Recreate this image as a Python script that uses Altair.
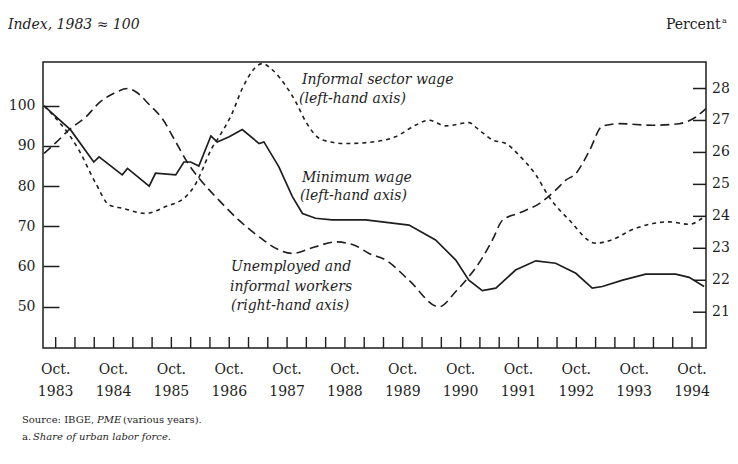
import altair as alt
import pandas as pd

# x = months since October 1983
min_wage_month = [-2.4, -0.7, 3.1, 7.9, 9.0, 13.8, 14.9, 19.4, 20.7, 24.9, 26.6, 28.0, 29.7,
                  32.2, 33.5, 36.0, 38.7, 42.2, 43.2, 46.3, 49.1, 51.2, 53.9, 57.3, 64.3,
                  73.3, 78.8, 83.0, 85.7, 88.5, 91.3, 95.4, 99.6, 103.7, 107.9, 111.3, 113.4,
                  117.6, 122.4, 128.6, 131.4, 134.5]
min_wage_index = [100, 98.1, 94, 86, 87.3, 82.8, 84.4, 80, 83.2, 82.8, 86, 86, 85,
                  92.5, 91, 92.3, 94.1, 90.6, 91, 84.8, 77.4, 73.2, 72, 71.6, 71.6,
                  70.3, 66.6, 61.6, 56.6, 54, 54.6, 59.1, 61.4, 60.8, 58.3, 54.6, 55,
                  56.6, 58.1, 58.1, 57.3, 55]

inf_wage_month = [-2.4, 4.8, 8.3, 11.1, 13.8, 18.7, 22.8, 27.0, 29.1, 30.4, 32.2, 33.9, 36.6,
                  38.7, 42.9, 44.9, 47.7, 49.8, 51.9, 55.3, 60.2, 65.0, 70.5, 74.7, 77.4,
                  80.9, 85.7, 87.8, 90.6, 93.4, 96.1, 99.6, 102.3, 106.5, 112.0, 114.8,
                  120.3, 127.2, 131.4, 134.1]
inf_wage_index = [100, 89, 80.7, 75.3, 74.5, 73.2, 74.9, 77.4, 80.7, 84, 89, 92.3, 98.1,
                  104.3, 110.5, 109, 105, 101, 96, 91.5, 90.6, 90.9, 92.3, 95.2, 96.4,
                  95, 95.8, 94, 91.5, 90.6, 87.7, 82.8, 77.4, 71.6, 65.8, 66.4,
                  69.5, 71.1, 70.5, 72]

unemp_month = [-2.4, 0.0, 3.1, 6.2, 9.0, 12.1, 14.9, 16.6, 19.4, 22.1, 24.9, 27.7, 29.7,
               33.9, 38.0, 42.2, 46.3, 49.1, 53.9, 58.1, 62.2, 65.0, 68.5, 73.3, 79.5,
               83.0, 85.7, 88.5, 90.6, 92.7, 96.1, 100.3, 103.7, 105.8, 107.9, 110.7,
               113.4, 116.9, 123.8, 129.3, 132.8, 134.9]
unemp_share = [25.97, 26.3, 26.75, 27.1, 27.55, 27.85, 28.0, 27.9, 27.5, 27.06, 26.33, 25.6, 25.2,
               24.5, 23.88, 23.36, 22.95, 22.84, 23.05, 23.2, 23.08, 22.84, 22.63, 22.0, 21.17,
               21.65, 22.11, 22.7, 23.26, 23.88, 24.1, 24.4, 24.82, 25.13, 25.34, 26.05,
               26.82, 26.9, 26.85, 26.9, 27.11, 27.37]

x_ticks = list(range(0, 133, 4))
x_label_months = list(range(0, 133, 12))
x_label_years = [str(1983 + i) for i in range(12)]
left_ticks = [50, 60, 70, 80, 90, 100]
right_ticks = [21, 22, 23, 24, 25, 26, 27, 28]

FONT = "DejaVu Serif"
INK = "#1e1e1e"
W, H = 663, 286

L0, L1 = 39.7, 110.9     # left (index) axis extent
R0, R1 = 19.88, 28.83    # right (percent) axis extent
to_left = f"{L0} + (datum.v - {R0}) * {(L1 - L0) / (R1 - R0)}"

x_scale = alt.Scale(domain=[-2.63, 134.9], nice=False, zero=False)
y_scale = alt.Scale(domain=[L0, L1], nice=False, zero=False)

x_axis = alt.Axis(values=x_ticks, labels=False, ticks=False, domain=False,
                  grid=False, title=None)
left_axis = alt.Axis(
    values=left_ticks, orient="left", offset=-16, tickSize=16, domain=False,
    grid=False, title=None, labelFont=FONT, labelFontSize=14, labelPadding=8,
    labelColor=INK, tickColor=INK, tickWidth=1.5,
)

X = alt.X("m:Q", scale=x_scale, axis=x_axis)

df_min = pd.DataFrame({"m": min_wage_month, "v": min_wage_index})
df_inf = pd.DataFrame({"m": inf_wage_month, "v": inf_wage_index})
df_une = pd.DataFrame({"m": unemp_month, "v": unemp_share})
df_xt = pd.DataFrame({"m": x_ticks})
df_xl = pd.DataFrame({"m": x_label_months, "yr": x_label_years})
df_rt = pd.DataFrame({"v": right_ticks})

min_line = alt.Chart(df_min).mark_line(color=INK, strokeWidth=1.7).encode(
    x=X, y=alt.Y("v:Q", scale=y_scale, axis=left_axis),
)
inf_line = alt.Chart(df_inf).mark_line(
    color=INK, strokeWidth=1.6, strokeDash=[4, 4], interpolate="monotone"
).encode(x=X, y=alt.Y("v:Q", scale=y_scale, axis=left_axis))
une_line = alt.Chart(df_une).transform_calculate(lv=to_left).mark_line(
    color=INK, strokeWidth=1.6, strokeDash=[9, 5], interpolate="monotone"
).encode(x=X, y=alt.Y("lv:Q", scale=y_scale, axis=left_axis))

x_tick_rules = alt.Chart(df_xt).mark_rule(color=INK, strokeWidth=1.4).encode(
    x=X, y=alt.value(H - 11), y2=alt.value(H),
)
x_lab_oct = alt.Chart(df_xl).mark_text(
    font=FONT, fontSize=14, color=INK, baseline="middle", text="Oct."
).encode(x=X, y=alt.value(H + 22))
x_lab_year = alt.Chart(df_xl).mark_text(
    font=FONT, fontSize=14, color=INK, baseline="middle"
).encode(x=X, y=alt.value(H + 44), text="yr:N")

r_tick_rules = alt.Chart(df_rt).transform_calculate(lv=to_left).mark_rule(
    color=INK, strokeWidth=1.5
).encode(x=alt.value(W - 13), x2=alt.value(W),
         y=alt.Y("lv:Q", scale=y_scale, axis=left_axis))
r_labels = alt.Chart(df_rt).transform_calculate(lv=to_left).mark_text(
    font=FONT, fontSize=14, color=INK, align="left", baseline="middle"
).encode(x=alt.value(W + 6), y=alt.Y("lv:Q", scale=y_scale, axis=left_axis),
         text="v:N")


def label(text, x, y, size=14, italic=False, align="left"):
    return alt.Chart(pd.DataFrame({"t": [text]})).mark_text(
        align=align, baseline="middle", font=FONT, fontSize=size,
        fontStyle="italic" if italic else "normal", color=INK,
    ).encode(x=alt.value(x), y=alt.value(y), text="t:N")


texts = [
    label("Index, 1983 \u2248 100", -35, -37, 14, True),
    label("Percent", 623, -37, 14),
    label("a", 679, -41, 8),
    label("Informal sector wage", 259, 18, 14, True),
    label("(left-hand axis)", 256, 37, 14, True),
    label("Minimum wage", 259, 116, 14, True),
    label("(left-hand axis)", 257, 134, 14, True),
    label("Unemployed and", 188, 205, 14, True),
    label("informal workers", 187, 225, 14, True),
    label("(right-hand axis)", 188, 244, 14, True),
    label("Source: IBGE,", -21, 358, 10),
    label("PME", 54, 358, 10, True),
    label("(various years).", 80, 358, 10),
    label("a.", -21, 375, 10),
    label("Share of urban labor force.", -10, 375, 10, True),
]

chart = (
    alt.layer(min_line, inf_line, une_line, x_tick_rules, x_lab_oct, x_lab_year,
              r_tick_rules, r_labels, *texts)
    .properties(
        width=W, height=H, autosize="none",
        padding={"left": 35, "top": 54, "right": 24, "bottom": 108},
        background="white",
    )
    .configure_view(stroke=INK, strokeWidth=1.5)
)

chart.save("out.html", embed_options={"renderer": "svg", "actions": False})
